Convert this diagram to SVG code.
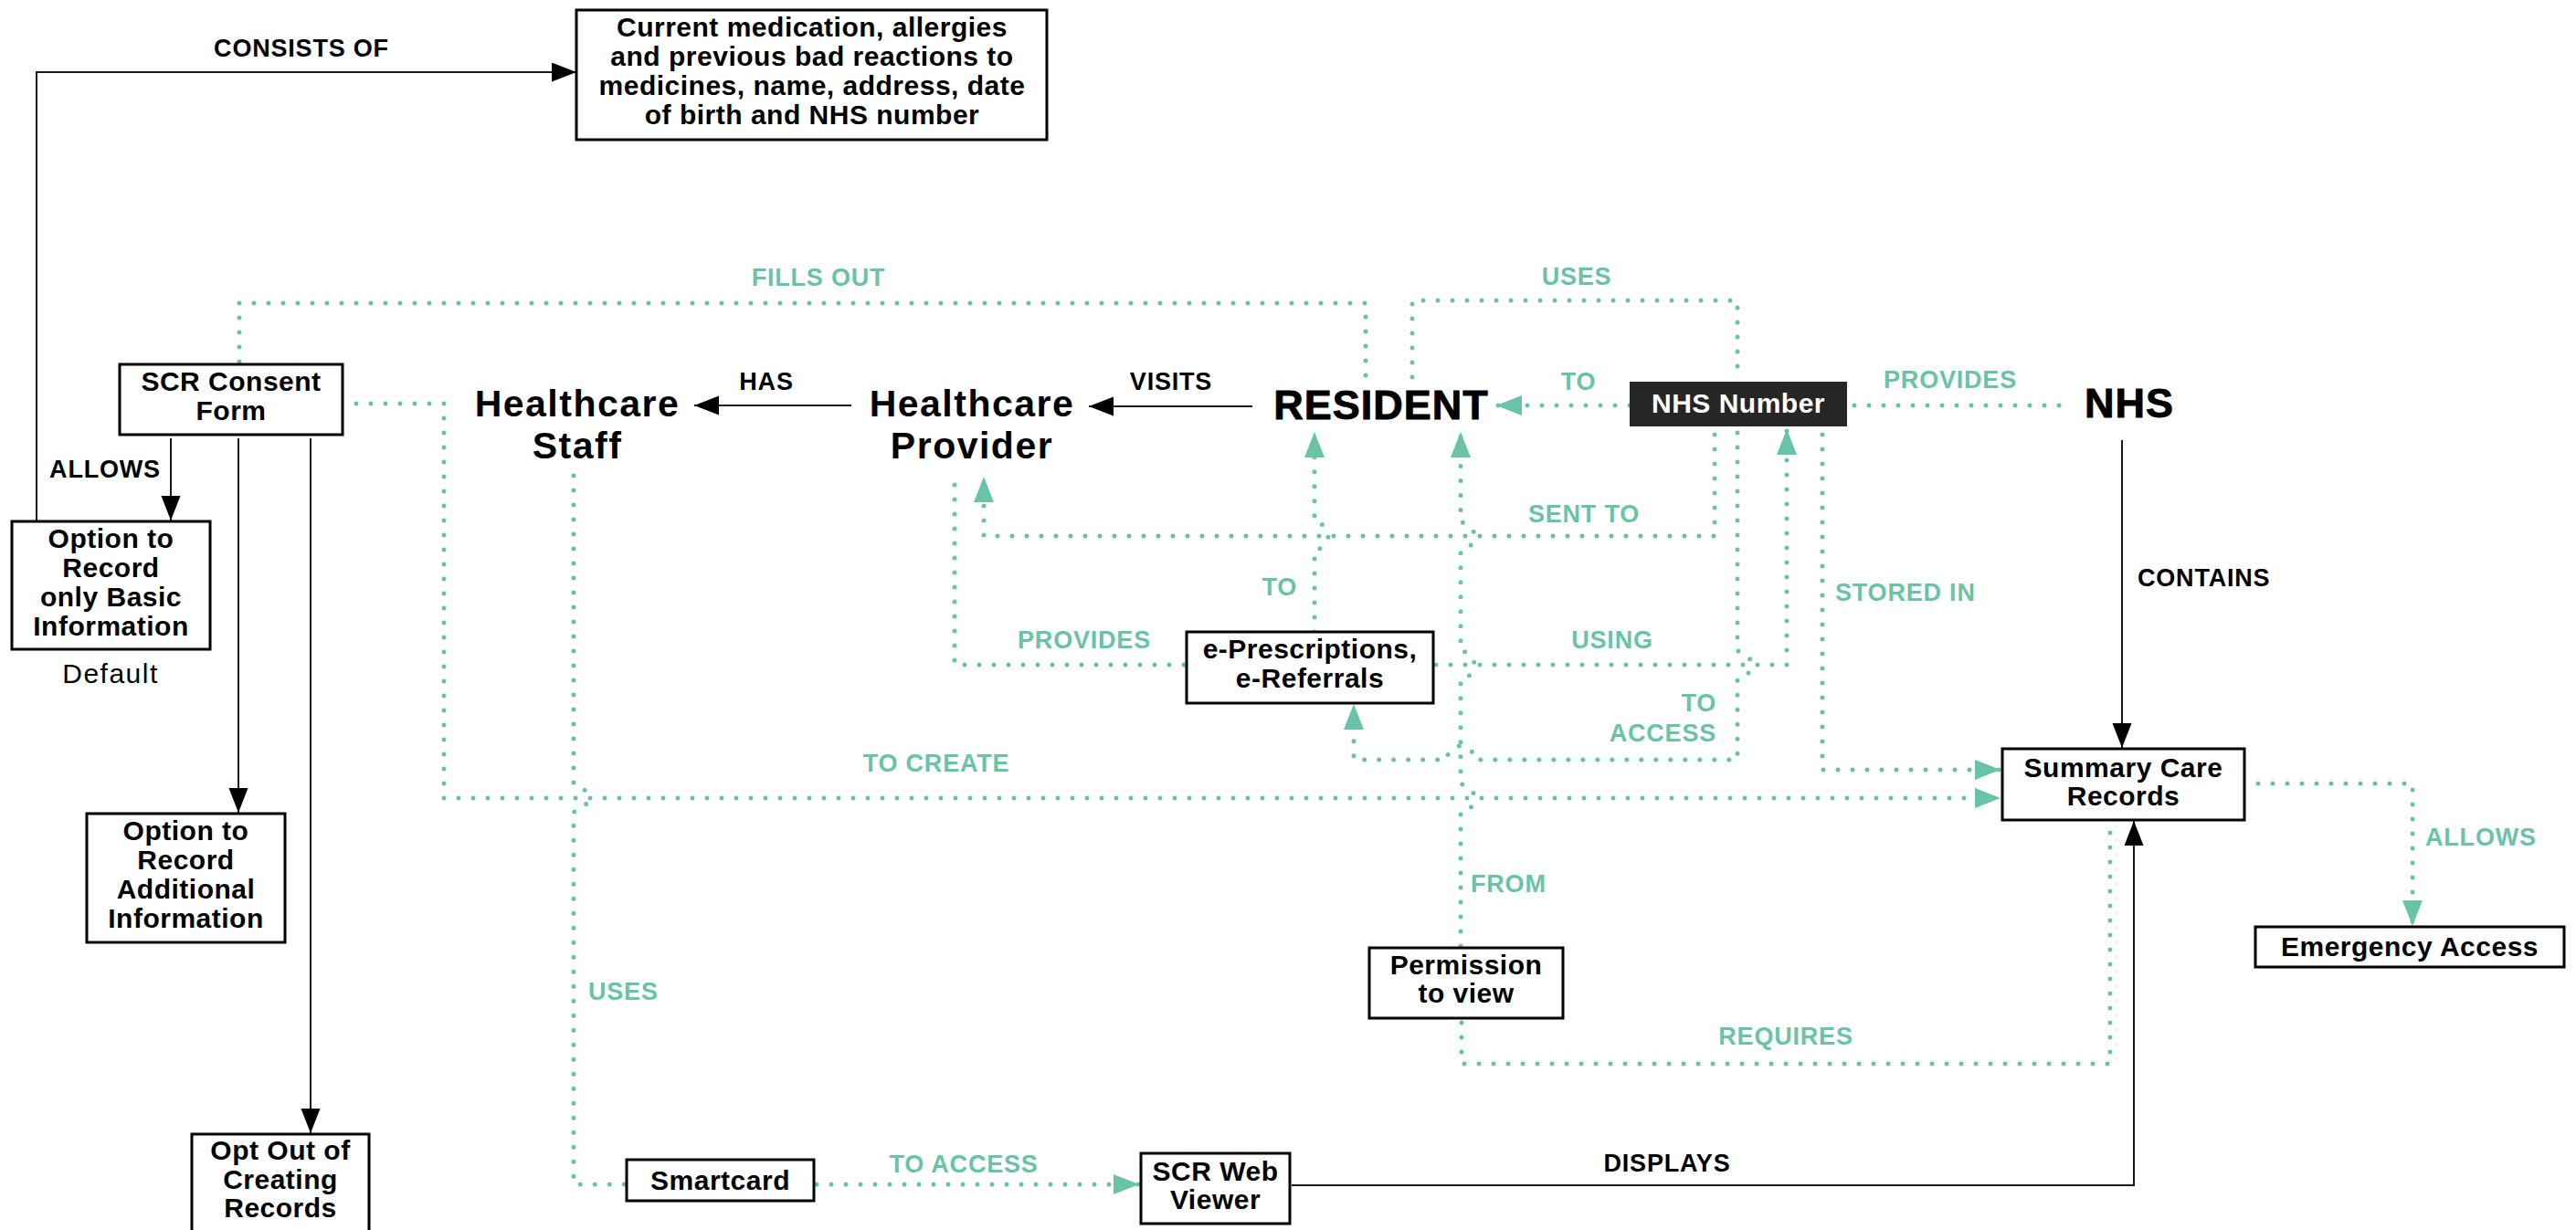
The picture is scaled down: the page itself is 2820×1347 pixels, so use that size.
<svg xmlns="http://www.w3.org/2000/svg" width="2820" height="1347" viewBox="0 0 2820 1347">
<style>
text{font-family:"Liberation Sans",Arial,sans-serif;font-weight:bold;fill:#000}
.box{fill:#fff;stroke:#000;stroke-width:3}
.nt{font-size:30px;text-anchor:middle;letter-spacing:0.5px}
.big{font-size:41px;text-anchor:middle;letter-spacing:1.5px}
.huge{font-size:45px;text-anchor:middle;letter-spacing:1px;stroke:#000;stroke-width:0.9px}
.lbl{font-size:27px;letter-spacing:0.8px}
.g{fill:#68c3a9}
.mid{text-anchor:middle}
.end{text-anchor:end}
.blk{fill:none;stroke:#1a1a1a;stroke-width:2}
.dot{fill:none;stroke:#68c3a9;stroke-width:5;stroke-linecap:round;stroke-dasharray:0 16}
</style>
<defs>
<marker id="ab" markerUnits="userSpaceOnUse" markerWidth="28" markerHeight="22" refX="27" refY="10.5" orient="auto"><path d="M0,0 L27,10.5 L0,21 z" fill="#000"/></marker>
<marker id="ag" markerUnits="userSpaceOnUse" markerWidth="30" markerHeight="24" refX="28" refY="11" orient="auto"><path d="M0,0 L28,11 L0,22 z" fill="#68c3a9"/></marker>
</defs>
<rect width="2820" height="1347" fill="#fff"/>

<g id="connectors">
<!-- black -->
<path class="blk" d="M40,571 V79 H631" marker-end="url(#ab)"/>
<path class="blk" d="M187,480 V570" marker-end="url(#ab)"/>
<path class="blk" d="M261,480 V890" marker-end="url(#ab)"/>
<path class="blk" d="M340,480 V1241" marker-end="url(#ab)"/>
<path class="blk" d="M932,444 H760" marker-end="url(#ab)"/>
<path class="blk" d="M1371,445 H1192" marker-end="url(#ab)"/>
<path class="blk" d="M2323,482 V819" marker-end="url(#ab)"/>
<path class="blk" d="M1414,1298 H2336 V899" marker-end="url(#ab)"/>
<!-- green dotted -->
<path class="dot" d="M262,396 V332 H1495 V413"/>
<path class="dot" d="M1546,413 V329 H1902 V410"/>
<path class="dot" d="M1784,444 H1638" marker-end="url(#ag)"/>
<path class="dot" d="M2030,444 H2260"/>
<path class="dot" d="M1877,476 V587 H1077 V522" marker-end="url(#ag)"/>
<path class="dot" d="M1439,692 V602 A15,15 0 0 0 1439,572 V473" marker-end="url(#ag)"/>
<path class="dot" d="M1599,1036 V889 A15,15 0 0 0 1599,859 V743 A15,15 0 0 0 1599,713 V602 A15,15 0 0 0 1599,572 V473" marker-end="url(#ag)"/>
<path class="dot" d="M1572,728 H1956 V470" marker-end="url(#ag)"/>
<path class="dot" d="M1902,474 V713 A15,15 0 0 1 1902,743 V832 H1614 A15,15 0 0 0 1584,832 H1482 V771" marker-end="url(#ag)"/>
<path class="dot" d="M1995,476 V843 H2190" marker-end="url(#ag)"/>
<path class="dot" d="M390,442 H486 V874 H2190" marker-end="url(#ag)"/>
<path class="dot" d="M1296,728 H1045 V522"/>
<path class="dot" d="M1600,1120 V1165 H2310 V902"/>
<path class="dot" d="M628,521 V859 A15,15 0 0 1 628,889 V1297 H684"/>
<path class="dot" d="M894,1297 H1247" marker-end="url(#ag)"/>
<path class="dot" d="M2472,858 H2641 V1014" marker-end="url(#ag)"/>
</g>

<g id="edge-labels">
<text class="lbl mid" x="330" y="62">CONSISTS OF</text>
<text class="lbl mid g" x="896" y="313">FILLS OUT</text>
<text class="lbl mid g" x="1726" y="312">USES</text>
<text class="lbl mid" x="839" y="427">HAS</text>
<text class="lbl mid" x="1282" y="427">VISITS</text>
<text class="lbl mid g" x="1728" y="427">TO</text>
<text class="lbl mid g" x="2135" y="425">PROVIDES</text>
<text class="lbl mid" x="115" y="523">ALLOWS</text>
<text class="lbl mid g" x="1734" y="572">SENT TO</text>
<text class="lbl" x="2340" y="642">CONTAINS</text>
<text class="lbl g" x="2009" y="658">STORED IN</text>
<text class="lbl end g" x="1420" y="652">TO</text>
<text class="lbl mid g" x="1187" y="710">PROVIDES</text>
<text class="lbl mid g" x="1765" y="710">USING</text>
<text class="lbl end g" x="1879" y="779">TO</text>
<text class="lbl end g" x="1879" y="812">ACCESS</text>
<text class="lbl mid g" x="1025" y="845">TO CREATE</text>
<text class="lbl g" x="2655" y="926">ALLOWS</text>
<text class="lbl g" x="1610" y="977">FROM</text>
<text class="lbl g" x="644" y="1095">USES</text>
<text class="lbl mid g" x="1955" y="1144">REQUIRES</text>
<text class="lbl mid g" x="1055" y="1284">TO ACCESS</text>
<text class="lbl mid" x="1825" y="1283">DISPLAYS</text>
</g>

<g id="node-details">
<rect class="box" x="631" y="11" width="515" height="142"/>
<text class="nt" x="889"><tspan x="889" y="40">Current medication, allergies</tspan><tspan x="889" y="72">and previous bad reactions to</tspan><tspan x="889" y="104">medicines, name, address, date</tspan><tspan x="889" y="136">of birth and NHS number</tspan></text>
</g>
<g id="node-consent">
<rect class="box" x="131" y="399" width="244" height="77"/>
<text class="nt"><tspan x="253" y="428">SCR Consent</tspan><tspan x="253" y="460">Form</tspan></text>
</g>
<g id="node-basic">
<rect class="box" x="13" y="571" width="217" height="140"/>
<text class="nt"><tspan x="121.5" y="600">Option to</tspan><tspan x="121.5" y="632">Record</tspan><tspan x="121.5" y="664">only Basic</tspan><tspan x="121.5" y="696">Information</tspan></text>
<text x="121" y="748" style="font-weight:normal;font-size:30px;text-anchor:middle;letter-spacing:1.5px">Default</text>
</g>
<g id="node-additional">
<rect class="box" x="95" y="891" width="217" height="141"/>
<text class="nt"><tspan x="203.5" y="920">Option to</tspan><tspan x="203.5" y="952">Record</tspan><tspan x="203.5" y="984">Additional</tspan><tspan x="203.5" y="1016">Information</tspan></text>
</g>
<g id="node-optout">
<rect class="box" x="210" y="1242" width="194" height="115"/>
<text class="nt"><tspan x="307" y="1270">Opt Out of</tspan><tspan x="307" y="1302">Creating</tspan><tspan x="307" y="1333">Records</tspan></text>
</g>
<g id="node-staff">
<text class="big"><tspan x="632" y="456">Healthcare</tspan><tspan x="632" y="502">Staff</tspan></text>
</g>
<g id="node-provider">
<text class="big"><tspan x="1064" y="456">Healthcare</tspan><tspan x="1064" y="502">Provider</tspan></text>
</g>
<g id="node-resident">
<text class="huge" x="1512" y="459">RESIDENT</text>
</g>
<g id="node-nhsnumber">
<rect x="1784" y="418" width="238" height="49" fill="#262626"/>
<text class="nt" x="1903" y="452" style="fill:#fff">NHS Number</text>
</g>
<g id="node-nhs">
<text class="huge" x="2331" y="457">NHS</text>
</g>
<g id="node-eprescriptions">
<rect class="box" x="1299" y="692" width="270" height="78"/>
<text class="nt"><tspan x="1434" y="721">e-Prescriptions,</tspan><tspan x="1434" y="753">e-Referrals</tspan></text>
</g>
<g id="node-scr">
<rect class="box" x="2192" y="820" width="265" height="78"/>
<text class="nt"><tspan x="2324.5" y="851">Summary Care</tspan><tspan x="2324.5" y="882">Records</tspan></text>
</g>
<g id="node-emergency">
<rect class="box" x="2469" y="1015" width="338" height="44"/>
<text class="nt" x="2638" y="1047">Emergency Access</text>
</g>
<g id="node-permission">
<rect class="box" x="1499" y="1038" width="212" height="77"/>
<text class="nt"><tspan x="1605" y="1067">Permission</tspan><tspan x="1605" y="1098">to view</tspan></text>
</g>
<g id="node-smartcard">
<rect class="box" x="686" y="1270" width="205" height="45"/>
<text class="nt" x="788.5" y="1303">Smartcard</text>
</g>
<g id="node-webviewer">
<rect class="box" x="1249" y="1263" width="163" height="77"/>
<text class="nt"><tspan x="1330.5" y="1293">SCR Web</tspan><tspan x="1330.5" y="1324">Viewer</tspan></text>
</g>
</svg>
